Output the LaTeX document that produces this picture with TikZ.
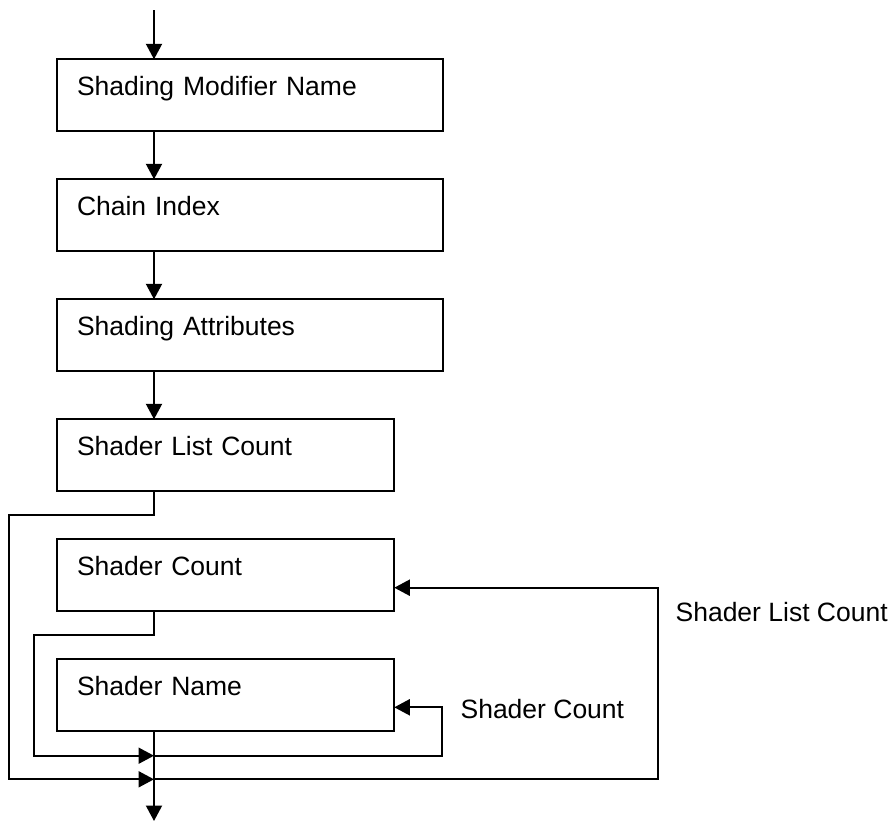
\documentclass[tikz,border=0pt]{standalone}
\usepackage{fontspec}
\setmainfont{Liberation Sans}
\usetikzlibrary{arrows.meta}
\begin{document}
\begin{tikzpicture}[x=1pt,y=-1pt,
  every node/.style={font=\fontsize{26.5}{32}\selectfont},
  boxw/.style={draw,line width=2pt,anchor=north west,outer sep=0pt,
    minimum height=71.4pt,inner xsep=19.7pt,inner ysep=2pt,
    text height=19pt,text depth=19pt,align=left},
  widebox/.style={boxw,minimum width=385.4pt,text width=346pt},
  narrowbox/.style={boxw,minimum width=337pt,text width=297.6pt},
  arr/.style={line width=2pt,-{Triangle[length=15.5pt,width=16pt]}},
  lbl/.style={anchor=base west,inner sep=0pt}]
\useasboundingbox (0,0) rectangle (894,822);
\node[widebox] (b1) at (57.3,59.3) {Shading Modifier Name};
\node[widebox] (b2) at (57.3,179.3) {Chain Index};
\node[widebox] (b3) at (57.3,299.3) {Shading Attributes};
\node[narrowbox] (b4) at (57.3,419.3) {Shader List Count};
\node[narrowbox] (b5) at (57.3,539.3) {Shader Count};
\node[narrowbox] (b6) at (57.3,659.3) {Shader Name};
\coordinate (start) at (154,10);
\coordinate (end) at (154,821);
\draw[arr] (start) -- (start |- b1.north);
\draw[arr] (b1.south -| start) -- (b2.north -| start);
\draw[arr] (b2.south -| start) -- (b3.north -| start);
\draw[arr] (b3.south -| start) -- (b4.north -| start);
\draw[arr] (b6.south -| start) -- (end);
\coordinate (k1) at (9.3,515);
\coordinate (j2) at (154,779.3);
\draw[arr] (b4.south -| start) |- (k1) |- (j2);
\coordinate (k2) at (33.7,635);
\coordinate (j1) at (154,755.7);
\draw[arr] (b5.south -| start) |- (k2) |- (j1);
\coordinate (r1) at (442,707.3);
\draw[arr] (j1) -| (r1) -- (r1 -| b6.east);
\coordinate (r2) at (657.7,587.7);
\draw[arr] (j2) -| (r2) -- (r2 -| b5.east);
\node[lbl] (l1) at (460.4,718.3) {Shader Count};
\node[lbl] (l2) at (675.4,621.7) {Shader List Count};
\end{tikzpicture}
\end{document}
